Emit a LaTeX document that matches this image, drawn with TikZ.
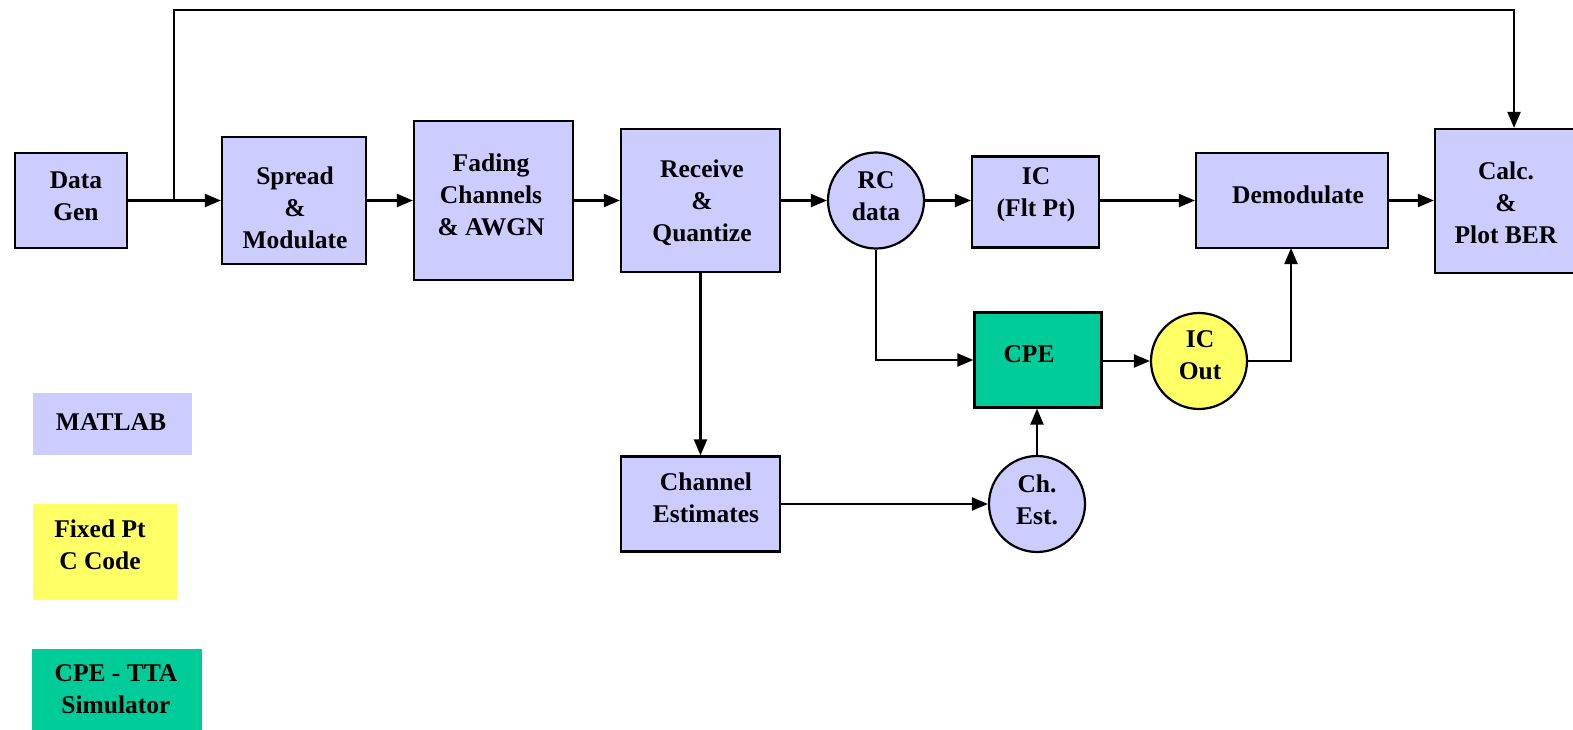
\documentclass[tikz,border=0pt]{standalone}
\usepackage{fontspec}
\setmainfont{Liberation Serif}
\usetikzlibrary{arrows.meta}
\definecolor{lav}{HTML}{CCCCFF}
\definecolor{ylw}{HTML}{FFFF66}
\definecolor{grn}{HTML}{00CC99}
\begin{document}
\begin{tikzpicture}[x=1pt,y=-1pt,
  font=\fontsize{25.5}{32}\selectfont\bfseries,
  blk/.style={draw, line width=2.2pt, fill=lav, inner sep=0pt},
  circ/.style={circle, draw, line width=2.2pt, fill=#1, inner sep=0pt, minimum size=96pt},
  leg/.style={fill=#1, inner sep=0pt},
  txt/.style={align=center, inner sep=0pt},
  arr/.style={line width=2.2pt, -{Triangle[length=16pt,width=13pt]}}]
\useasboundingbox (0,0) rectangle (1573,730);

% main chain
\node[blk, minimum width=112pt, minimum height=95pt] (gen) at (71,200.5) {};
\node[txt] (genT) at (76,196) {Data\\Gen};
\node[blk, minimum width=144pt, minimum height=127pt] (spread) at (294,200.5) {};
\node[txt] (spreadT) at (295,208) {Spread\\\&\\Modulate};
\node[blk, minimum width=159pt, minimum height=159pt] (fade) at (493.5,200.5) {};
\node[txt] (fadeT) at (491,195) {Fading\\Channels\\\& AWGN};
\node[blk, minimum width=159pt, minimum height=143pt] (recv) at (700.5,200.5) {};
\node[txt] (recvT) at (702,203) {Receive\\\&\\Quantize};
\node[circ=lav] (rc) at (876,200.5) {};
\node[txt] (rcT) at (876,196) {RC\\data};
\node[blk, minimum width=127pt, minimum height=91pt] (ic) at (1035.5,202) {};
\node[txt] (icT) at (1036,195) {IC\\(Flt Pt)};
\node[blk, minimum width=192pt, minimum height=95pt] (demod) at (1292,200.5) {};
\node[txt] (demodT) at (1298,195) {Demodulate};
\node[blk, minimum width=142pt, minimum height=144pt] (calc) at (1506,201) {};
\node[txt] (calcT) at (1506,203) {Calc.\\\&\\Plot BER};

% lower part
\node[blk, fill=grn, minimum width=127pt, minimum height=95pt] (cpe) at (1038,360) {};
\node[txt] (cpeT) at (1029,354) {CPE};
\node[circ=ylw] (icout) at (1199,361) {};
\node[txt] (icoutT) at (1200,355) {IC\\Out};
\node[blk, minimum width=159pt, minimum height=95pt] (chest) at (700.5,504) {};
\node[txt] (chestT) at (706,498) {Channel\\Estimates};
\node[circ=lav] (cest) at (1037,504) {};
\node[txt] (cestT) at (1037,500) {Ch.\\Est.};

% legend
\node[leg=lav, minimum width=159pt, minimum height=62pt] (lmat) at (112.5,424) {};
\node[txt] (lmatT) at (111,422) {MATLAB};
\node[leg=ylw, minimum width=144pt, minimum height=96pt] (lfix) at (105,552) {};
\node[txt] (lfixT) at (100,545) {Fixed Pt\\C Code};
\node[leg=grn, minimum width=170pt, minimum height=82pt] (ltta) at (117,690) {};
\node[txt] (lttaT) at (116,689) {CPE - TTA\\Simulator};

% connectors
\coordinate (br) at (174,200.5);
\coordinate (tr) at (1514,10);
\draw[arr] (gen.east) -- (spread.west);
\draw[arr] (br) |- (tr) -- (tr |- calc.north);
\draw[arr] (spread.east) -- (fade.west);
\draw[arr] (fade.east) -- (recv.west);
\draw[arr] (recv.east) -- (rc.west);
\draw[arr] (rc.east) -- (ic.west |- rc.east);
\draw[arr] (ic.east |- rc.east) -- (demod.west |- rc.east);
\draw[arr] (demod.east) -- (calc.west |- demod.east);
\draw[arr] (recv.south) -- (chest.north);
\draw[arr] (chest.east) -- (cest.west);
\draw[arr] (cest.north) -- (cest.north |- cpe.south);
\draw[arr] (rc.south) |- (cpe.west);
\draw[arr] (cpe.east |- icout.west) -- (icout.west);
\coordinate (dm) at (1291,248);
\draw[arr] (icout.east) -| (dm);
\end{tikzpicture}
\end{document}
